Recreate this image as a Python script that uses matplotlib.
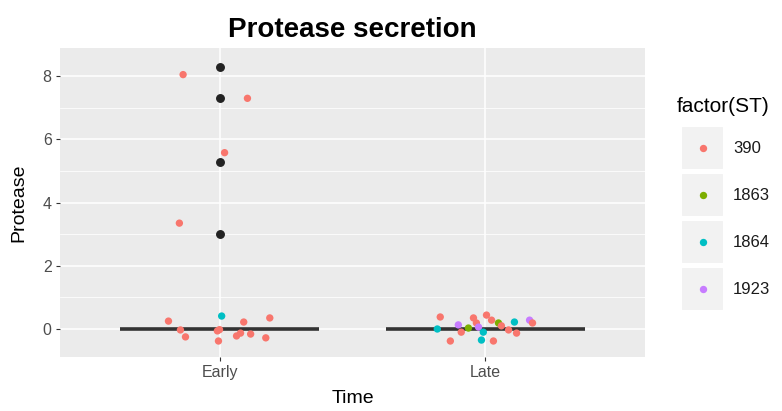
import matplotlib.pyplot as plt
import numpy as np

# ST colours (ggplot default hue palette)
st_levels = ["390", "1863", "1864", "1923"]
st_colors = ["#F8766D", "#7CAE00", "#00BFC4", "#C77CFF"]

times = ["Early", "Late"]

# raw protease values used for the boxplots
early_protease = [8.3, 7.3, 5.3, 3.0] + [0.0] * 13
late_protease = [0.0] * 21

# jittered points: ST, x offset from category, y
early_st = ["390", "390", "390", "390", "390", "390", "390", "390", "390",
            "390", "390", "390", "390", "390", "390", "1864", "390"]
early_dx = [-0.137, 0.105, 0.019, -0.151, -0.192, -0.147, -0.128, -0.008, -0.004,
            0.064, 0.079, 0.091, 0.117, 0.174, 0.189, 0.008, 0.0]
early_y = [8.05, 7.30, 5.58, 3.35, 0.25, -0.03, -0.25, -0.06, -0.38,
           -0.22, -0.13, 0.22, -0.16, -0.28, 0.35, 0.41, -0.02]

late_st = ["390", "1864", "390", "1923", "390", "390", "390", "1923", "390", "1864",
           "1864", "390", "1863", "390", "390", "390", "1864", "1923", "390", "1863", "390"]
late_dx = [-0.170, -0.181, -0.132, -0.102, -0.091, -0.045, -0.034, -0.026, 0.004, -0.008,
           -0.015, 0.023, 0.049, 0.030, 0.087, 0.117, 0.109, 0.166, 0.177, -0.064, 0.060]
late_y = [0.38, 0.00, -0.38, 0.13, -0.10, 0.35, 0.19, 0.06, 0.44, -0.10,
          -0.35, 0.28, 0.19, -0.38, -0.03, -0.13, 0.22, 0.28, 0.19, 0.03, 0.10]

plt.rcParams['font.family'] = ['Liberation Sans', 'DejaVu Sans']

fig = plt.figure(figsize=(7.82, 4.11), dpi=100)
ax = fig.add_axes([0.0767, 0.1314, 0.7481, 0.7518])
ax.set_facecolor("#EBEBEB")
for s in ax.spines.values():
    s.set_visible(False)

# boxplots (collapsed to a line at 0)
ax.boxplot([early_protease, late_protease], positions=[1, 2], widths=0.75,
           patch_artist=True, manage_ticks=False,
           boxprops=dict(facecolor="white", edgecolor="#333333", linewidth=1.2),
           medianprops=dict(color="#333333", linewidth=2.6),
           whiskerprops=dict(color="#333333", linewidth=1.2),
           capprops=dict(linewidth=0),
           flierprops=dict(marker="o", markerfacecolor="#222222", markeredgecolor="#222222",
                           markersize=5.4),
           zorder=2)

cmap = dict(zip(st_levels, st_colors))
for pos, sts, dxs, ys in [(1, early_st, early_dx, early_y), (2, late_st, late_dx, late_y)]:
    ax.scatter(pos + np.array(dxs), ys, s=28, c=[cmap[s] for s in sts],
               linewidths=0, zorder=3)

ax.set_xlim(0.4, 2.6)
ax.set_ylim(-0.886, 8.892)
ax.set_xticks([1, 2])
ax.set_xticklabels(times)
ax.set_yticks([0, 2, 4, 6, 8])
ax.set_yticks([1, 3, 5, 7], minor=True)
ax.grid(True, which="major", color="white", linewidth=1.1, zorder=0)
ax.grid(True, which="minor", axis="y", color="white", linewidth=0.55, zorder=0)
ax.set_axisbelow(True)
ax.tick_params(which="major", length=3, width=0.8, color="#333333",
               labelcolor="#4D4D4D", labelsize=11.5, pad=3)
ax.tick_params(which="minor", length=0)

ax.set_xlabel("Time", fontsize=14, labelpad=7)
ax.set_ylabel("Protease", fontsize=14, labelpad=11)
ax.set_title("Protease secretion", fontsize=20, fontweight="bold", pad=8)

# legend drawn in pixel coordinates
lax = fig.add_axes([0, 0, 1, 1])
lax.set_xlim(0, 782)
lax.set_ylim(411, 0)
lax.axis("off")
lax.patch.set_alpha(0)
lax.text(677, 106, "factor(ST)", fontsize=15, va="center", ha="left")
row_y = [148, 195, 242, 289]
for yy, lab, col in zip(row_y, st_levels, st_colors):
    lax.add_patch(plt.Rectangle((681, yy - 22), 43, 44, facecolor="#F2F2F2",
                                edgecolor="white", linewidth=1.5))
    lax.scatter([702.5], [yy], s=28, c=col, linewidths=0)
    lax.text(733, yy, lab, fontsize=12, va="center", ha="left", color="#1A1A1A")

fig.savefig("out.png", dpi=100)
